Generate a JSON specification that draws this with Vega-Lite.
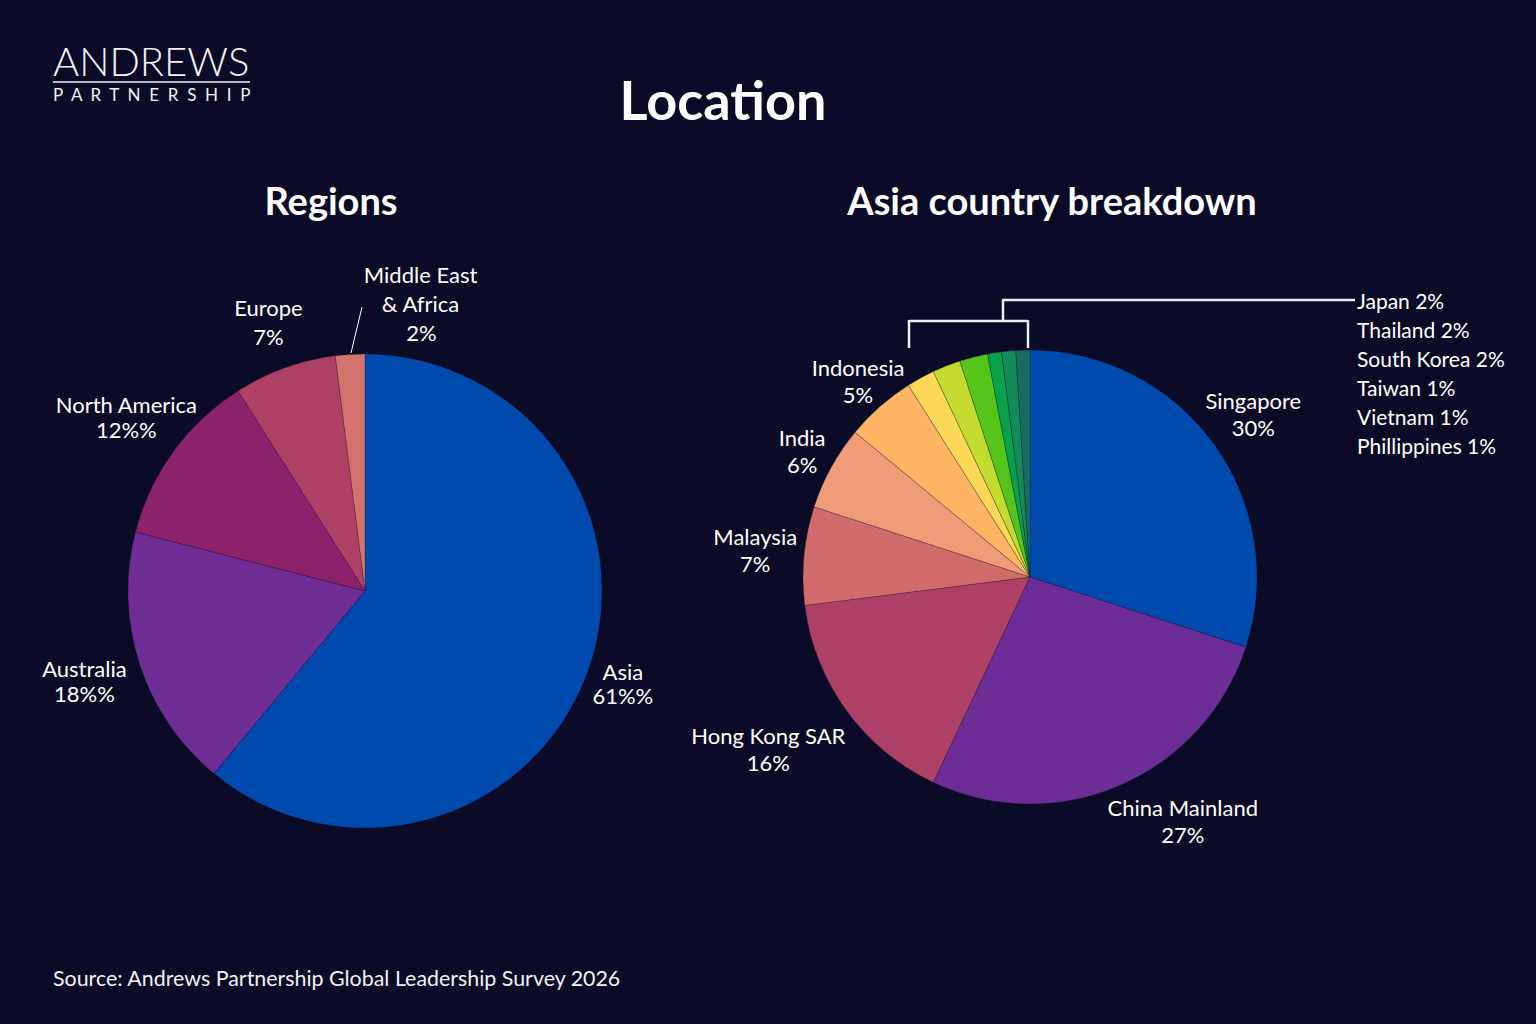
{
  "$schema": "https://vega.github.io/schema/vega-lite/v6.json",
  "background": "#0b0b27",
  "padding": 0,
  "autosize": {"type": "pad"},
  "spacing": 0,
  "bounds": "flush",
  "config": {
    "view": {"stroke": null},
    "font": "Lato",
    "title": {"color": "#ffffff", "font": "Lato", "fontWeight": "bold", "fontSize": 38, "frame": "group", "anchor": "middle", "offset": 27}
  },
  "datasets": {
    "regions": [
      {"region": "Asia", "share": 61, "label": "61%%", "order": 1},
      {"region": "Australia", "share": 18, "label": "18%%", "order": 2},
      {"region": "North America", "share": 12, "label": "12%%", "order": 3},
      {"region": "Europe", "share": 7, "label": "7%", "order": 4},
      {"region": "Middle East & Africa", "share": 2, "label": "2%", "order": 5}
    ],
    "asia": [
      {"country": "Singapore", "share": 30, "label": "30%", "order": 1},
      {"country": "China Mainland", "share": 27, "label": "27%", "order": 2},
      {"country": "Hong Kong SAR", "share": 16, "label": "16%", "order": 3},
      {"country": "Malaysia", "share": 7, "label": "7%", "order": 4},
      {"country": "India", "share": 6, "label": "6%", "order": 5},
      {"country": "Indonesia", "share": 5, "label": "5%", "order": 6},
      {"country": "Japan", "share": 2, "label": "2%", "order": 7},
      {"country": "Thailand", "share": 2, "label": "2%", "order": 8},
      {"country": "South Korea", "share": 2, "label": "2%", "order": 9},
      {"country": "Taiwan", "share": 1, "label": "1%", "order": 10},
      {"country": "Vietnam", "share": 1, "label": "1%", "order": 11},
      {"country": "Phillippines", "share": 1, "label": "1%", "order": 12}
    ]
  },
  "vconcat": [
    {
      "width": 1536,
      "height": 250,
      "data": {"values": [{}]},
      "layer": [
        {"mark": {"type": "text", "text": "ANDREWS", "align": "left", "baseline": "alphabetic", "fontSize": 40, "fontWeight": 300, "color": "#f2f2f4"},
         "encoding": {"x": {"value": 53}, "y": {"value": 76}}},
        {"mark": {"type": "rule", "color": "#b8b8c2", "strokeWidth": 2},
         "encoding": {"x": {"value": 53}, "x2": {"value": 250}, "y": {"value": 82}, "y2": {"value": 82}}},
        {"mark": {"type": "text", "text": "P\u00a0 A\u00a0 R\u00a0 T\u00a0 N\u00a0 E\u00a0 R\u00a0 S\u00a0 H\u00a0 I\u00a0 P", "align": "left", "baseline": "alphabetic", "fontSize": 17, "fontWeight": 400, "color": "#f2f2f4"},
         "encoding": {"x": {"value": 53}, "y": {"value": 101}}},
        {"mark": {"type": "text", "text": "Location", "align": "center", "baseline": "alphabetic", "fontSize": 54, "fontWeight": "bold", "color": "#ffffff"},
         "encoding": {"x": {"value": 723}, "y": {"value": 120}}}
      ]
    },
    {
      "spacing": 0,
      "bounds": "flush",
      "resolve": {"scale": {"color": "independent", "theta": "independent"}},
      "hconcat": [
        {
          "width": 730,
          "height": 682,
          "title": {"text": "Regions", "dx": -34},
          "data": {"name": "regions"},
          "layer": [
            {
              "mark": {"type": "arc", "outerRadius": 237, "stroke": "#0b0b27", "strokeWidth": 0.6, "strokeOpacity": 0.4},
              "encoding": {
                "theta": {"field": "share", "type": "quantitative", "stack": true},
                "order": {"field": "order", "type": "quantitative"},
                "color": {"field": "region", "type": "nominal", "legend": null,
                  "scale": {"domain": ["Asia", "Australia", "North America", "Europe", "Middle East & Africa"],
                            "range": ["#004aad", "#6e2e96", "#8c2269", "#ae4066", "#d4736d"]}}
              }
            },
            {
              "mark": {"type": "text", "radius": 274, "dy": -4, "align": "center", "baseline": "alphabetic", "color": "#ffffff"},
              "encoding": {
                "theta": {"field": "share", "type": "quantitative", "stack": true},
                "order": {"field": "order", "type": "quantitative"},
                "detail": {"field": "region", "type": "nominal"},
                "size": {"condition": {"test": "datum.region === 'Asia'", "value": 22}, "value": 0},
                "text": {"condition": {"test": "datum.region === 'Asia'", "field": "region", "type": "nominal"}, "value": ""}
              }
            },
            {
              "mark": {"type": "text", "radius": 274, "dy": 20, "align": "center", "baseline": "alphabetic", "color": "#ffffff"},
              "encoding": {
                "theta": {"field": "share", "type": "quantitative", "stack": true},
                "order": {"field": "order", "type": "quantitative"},
                "detail": {"field": "region", "type": "nominal"},
                "size": {"condition": {"test": "datum.region === 'Asia'", "value": 22}, "value": 0},
                "text": {"condition": {"test": "datum.region === 'Asia'", "field": "label", "type": "nominal"}, "value": ""}
              }
            },
            {
              "mark": {"type": "text", "radius": 295, "dy": -5, "align": "center", "baseline": "alphabetic", "color": "#ffffff"},
              "encoding": {
                "theta": {"field": "share", "type": "quantitative", "stack": true},
                "order": {"field": "order", "type": "quantitative"},
                "detail": {"field": "region", "type": "nominal"},
                "size": {"condition": {"test": "indexof(['Australia', 'North America'], datum.region) >= 0", "value": 22}, "value": 0},
                "text": {"condition": {"test": "indexof(['Australia', 'North America'], datum.region) >= 0", "field": "region", "type": "nominal"}, "value": ""}
              }
            },
            {
              "mark": {"type": "text", "radius": 295, "dy": 20, "align": "center", "baseline": "alphabetic", "color": "#ffffff"},
              "encoding": {
                "theta": {"field": "share", "type": "quantitative", "stack": true},
                "order": {"field": "order", "type": "quantitative"},
                "detail": {"field": "region", "type": "nominal"},
                "size": {"condition": {"test": "indexof(['Australia', 'North America'], datum.region) >= 0", "value": 22}, "value": 0},
                "text": {"condition": {"test": "indexof(['Australia', 'North America'], datum.region) >= 0", "field": "label", "type": "nominal"}, "value": ""}
              }
            },
            {
              "mark": {"type": "text", "radius": 285, "dy": -7, "align": "center", "baseline": "alphabetic", "color": "#ffffff"},
              "encoding": {
                "theta": {"field": "share", "type": "quantitative", "stack": true},
                "order": {"field": "order", "type": "quantitative"},
                "detail": {"field": "region", "type": "nominal"},
                "size": {"condition": {"test": "datum.region === 'Europe'", "value": 22}, "value": 0},
                "text": {"condition": {"test": "datum.region === 'Europe'", "field": "region", "type": "nominal"}, "value": ""}
              }
            },
            {
              "mark": {"type": "text", "radius": 285, "dy": 22, "align": "center", "baseline": "alphabetic", "color": "#ffffff"},
              "encoding": {
                "theta": {"field": "share", "type": "quantitative", "stack": true},
                "order": {"field": "order", "type": "quantitative"},
                "detail": {"field": "region", "type": "nominal"},
                "size": {"condition": {"test": "datum.region === 'Europe'", "value": 22}, "value": 0},
                "text": {"condition": {"test": "datum.region === 'Europe'", "field": "label", "type": "nominal"}, "value": ""}
              }
            },
            {
              "mark": {"type": "text", "radius": 278, "dx": 73, "dy": -31, "lineHeight": 29, "align": "center", "baseline": "alphabetic", "color": "#ffffff"},
              "encoding": {
                "theta": {"field": "share", "type": "quantitative", "stack": true},
                "order": {"field": "order", "type": "quantitative"},
                "detail": {"field": "region", "type": "nominal"},
                "size": {"condition": {"test": "datum.region === 'Middle East & Africa'", "value": 22}, "value": 0},
                "text": {"condition": {"test": "datum.region === 'Middle East & Africa'", "value": ["Middle East", "& Africa"]}, "value": ""}
              }
            },
            {
              "mark": {"type": "text", "radius": 278, "dx": 74, "dy": 27, "align": "center", "baseline": "alphabetic", "color": "#ffffff"},
              "encoding": {
                "theta": {"field": "share", "type": "quantitative", "stack": true},
                "order": {"field": "order", "type": "quantitative"},
                "detail": {"field": "region", "type": "nominal"},
                "size": {"condition": {"test": "datum.region === 'Middle East & Africa'", "value": 22}, "value": 0},
                "text": {"condition": {"test": "datum.region === 'Middle East & Africa'", "field": "label", "type": "nominal"}, "value": ""}
              }
            },
            {
              "data": {"values": [{}]},
              "mark": {"type": "rule", "color": "#ffffff", "strokeWidth": 1},
              "encoding": {"x": {"value": 351}, "x2": {"value": 362}, "y": {"value": 103}, "y2": {"value": 57}}
            }
          ]
        },
        {
          "width": 600,
          "height": 654,
          "title": {"text": "Asia country breakdown", "dx": 22},
          "data": {"name": "asia"},
          "layer": [
            {
              "mark": {"type": "arc", "outerRadius": 227, "stroke": "#0b0b27", "strokeWidth": 0.6, "strokeOpacity": 0.4},
              "encoding": {
                "theta": {"field": "share", "type": "quantitative", "stack": true},
                "order": {"field": "order", "type": "quantitative"},
                "color": {"field": "country", "type": "nominal", "legend": null,
                  "scale": {"domain": ["Singapore", "China Mainland", "Hong Kong SAR", "Malaysia", "India", "Indonesia", "Japan", "Thailand", "South Korea", "Taiwan", "Vietnam", "Phillippines"],
                            "range": ["#004aad", "#6c2e96", "#ad4066", "#d06c6c", "#f19c79", "#feb664", "#fcd858", "#c3db2e", "#54c41a", "#0a9f4b", "#128a5a", "#176e60"]}}
              }
            },
            {
              "mark": {"type": "text", "radius": 276, "dy": -6, "align": "center", "baseline": "alphabetic", "color": "#ffffff"},
              "encoding": {
                "theta": {"field": "share", "type": "quantitative", "stack": true},
                "order": {"field": "order", "type": "quantitative"},
                "detail": {"field": "country", "type": "nominal"},
                "size": {"condition": {"test": "indexof(['Singapore', 'Malaysia'], datum.country) >= 0", "value": 22}, "value": 0},
                "text": {"condition": {"test": "indexof(['Singapore', 'Malaysia'], datum.country) >= 0", "field": "country", "type": "nominal"}, "value": ""}
              }
            },
            {
              "mark": {"type": "text", "radius": 276, "dy": 21, "align": "center", "baseline": "alphabetic", "color": "#ffffff"},
              "encoding": {
                "theta": {"field": "share", "type": "quantitative", "stack": true},
                "order": {"field": "order", "type": "quantitative"},
                "detail": {"field": "country", "type": "nominal"},
                "size": {"condition": {"test": "indexof(['Singapore', 'Malaysia'], datum.country) >= 0", "value": 22}, "value": 0},
                "text": {"condition": {"test": "indexof(['Singapore', 'Malaysia'], datum.country) >= 0", "field": "label", "type": "nominal"}, "value": ""}
              }
            },
            {
              "mark": {"type": "text", "radius": 260, "dy": -6, "align": "center", "baseline": "alphabetic", "color": "#ffffff"},
              "encoding": {
                "theta": {"field": "share", "type": "quantitative", "stack": true},
                "order": {"field": "order", "type": "quantitative"},
                "detail": {"field": "country", "type": "nominal"},
                "size": {"condition": {"test": "indexof(['India', 'Indonesia'], datum.country) >= 0", "value": 22}, "value": 0},
                "text": {"condition": {"test": "indexof(['India', 'Indonesia'], datum.country) >= 0", "field": "country", "type": "nominal"}, "value": ""}
              }
            },
            {
              "mark": {"type": "text", "radius": 260, "dy": 21, "align": "center", "baseline": "alphabetic", "color": "#ffffff"},
              "encoding": {
                "theta": {"field": "share", "type": "quantitative", "stack": true},
                "order": {"field": "order", "type": "quantitative"},
                "detail": {"field": "country", "type": "nominal"},
                "size": {"condition": {"test": "indexof(['India', 'Indonesia'], datum.country) >= 0", "value": 22}, "value": 0},
                "text": {"condition": {"test": "indexof(['India', 'Indonesia'], datum.country) >= 0", "field": "label", "type": "nominal"}, "value": ""}
              }
            },
            {
              "mark": {"type": "text", "radius": 300, "dx": -19, "dy": -9, "align": "center", "baseline": "alphabetic", "color": "#ffffff"},
              "encoding": {
                "theta": {"field": "share", "type": "quantitative", "stack": true},
                "order": {"field": "order", "type": "quantitative"},
                "detail": {"field": "country", "type": "nominal"},
                "size": {"condition": {"test": "datum.country === 'Hong Kong SAR'", "value": 22}, "value": 0},
                "text": {"condition": {"test": "datum.country === 'Hong Kong SAR'", "field": "country", "type": "nominal"}, "value": ""}
              }
            },
            {
              "mark": {"type": "text", "radius": 300, "dx": -19, "dy": 18, "align": "center", "baseline": "alphabetic", "color": "#ffffff"},
              "encoding": {
                "theta": {"field": "share", "type": "quantitative", "stack": true},
                "order": {"field": "order", "type": "quantitative"},
                "detail": {"field": "country", "type": "nominal"},
                "size": {"condition": {"test": "datum.country === 'Hong Kong SAR'", "value": 22}, "value": 0},
                "text": {"condition": {"test": "datum.country === 'Hong Kong SAR'", "field": "label", "type": "nominal"}, "value": ""}
              }
            },
            {
              "mark": {"type": "text", "radius": 289, "dx": 38, "dy": -26, "align": "center", "baseline": "alphabetic", "color": "#ffffff"},
              "encoding": {
                "theta": {"field": "share", "type": "quantitative", "stack": true},
                "order": {"field": "order", "type": "quantitative"},
                "detail": {"field": "country", "type": "nominal"},
                "size": {"condition": {"test": "datum.country === 'China Mainland'", "value": 22}, "value": 0},
                "text": {"condition": {"test": "datum.country === 'China Mainland'", "field": "country", "type": "nominal"}, "value": ""}
              }
            },
            {
              "mark": {"type": "text", "radius": 289, "dx": 38, "dy": 1, "align": "center", "baseline": "alphabetic", "color": "#ffffff"},
              "encoding": {
                "theta": {"field": "share", "type": "quantitative", "stack": true},
                "order": {"field": "order", "type": "quantitative"},
                "detail": {"field": "country", "type": "nominal"},
                "size": {"condition": {"test": "datum.country === 'China Mainland'", "value": 22}, "value": 0},
                "text": {"condition": {"test": "datum.country === 'China Mainland'", "field": "label", "type": "nominal"}, "value": ""}
              }
            },
            {
              "transform": [{"filter": "datum.share <= 2"}],
              "mark": {"type": "text", "align": "left", "baseline": "middle", "fontSize": 21, "color": "#ffffff", "text": {"expr": "datum.country + ' ' + datum.label"}},
              "encoding": {
                "x": {"value": 627},
                "y": {"field": "country", "type": "ordinal", "sort": {"field": "order"}, "axis": null,
                      "scale": {"type": "point", "range": [53, 198], "padding": 0}}
              }
            },
            {
              "data": {"values": [{}]},
              "mark": {"type": "rule", "color": "#eeeeee", "strokeWidth": 2.5},
              "encoding": {"x": {"value": 179}, "x2": {"value": 298}, "y": {"value": 71}, "y2": {"value": 71}}
            },
            {
              "data": {"values": [{}]},
              "mark": {"type": "rule", "color": "#eeeeee", "strokeWidth": 2.5},
              "encoding": {"x": {"value": 179}, "x2": {"value": 179}, "y": {"value": 70}, "y2": {"value": 98}}
            },
            {
              "data": {"values": [{}]},
              "mark": {"type": "rule", "color": "#eeeeee", "strokeWidth": 2.5},
              "encoding": {"x": {"value": 298}, "x2": {"value": 298}, "y": {"value": 70}, "y2": {"value": 98}}
            },
            {
              "data": {"values": [{}]},
              "mark": {"type": "rule", "color": "#eeeeee", "strokeWidth": 2.5},
              "encoding": {"x": {"value": 273}, "x2": {"value": 273}, "y": {"value": 50}, "y2": {"value": 72}}
            },
            {
              "data": {"values": [{}]},
              "mark": {"type": "rule", "color": "#eeeeee", "strokeWidth": 2.5},
              "encoding": {"x": {"value": 272}, "x2": {"value": 625}, "y": {"value": 50}, "y2": {"value": 50}}
            }
          ]
        }
      ]
    },
    {
      "width": 1536,
      "height": 774,
      "data": {"values": [{}]},
      "mark": {"type": "text", "text": "Source: Andrews Partnership Global Leadership Survey 2026", "align": "left", "baseline": "alphabetic", "fontSize": 21.4, "color": "#f2f2f4"},
      "encoding": {"x": {"value": 53}, "y": {"value": 736}}
    }
  ]
}
